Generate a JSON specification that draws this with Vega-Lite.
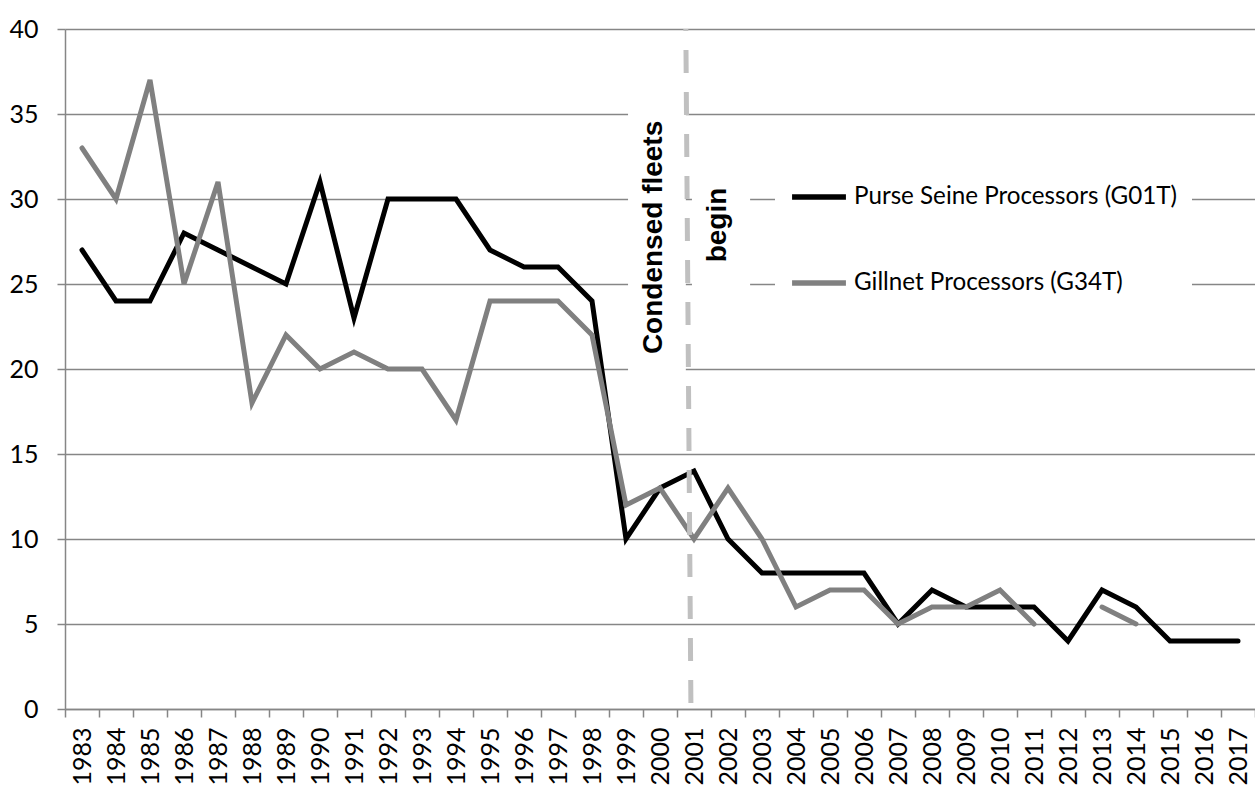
{
  "$schema": "https://vega.github.io/schema/vega-lite/v6.json",
  "width": 1190,
  "height": 680,
  "autosize": {"type": "none"},
  "padding": {"left": 65, "top": 29, "right": 0, "bottom": 82},
  "background": "white",
  "config": {"view": {"stroke": null}, "font": "Lato"},
  "datasets": {
    "series": [
      {"year": 1983, "series": "Purse Seine Processors (G01T)", "value": 27},
      {"year": 1984, "series": "Purse Seine Processors (G01T)", "value": 24},
      {"year": 1985, "series": "Purse Seine Processors (G01T)", "value": 24},
      {"year": 1986, "series": "Purse Seine Processors (G01T)", "value": 28},
      {"year": 1987, "series": "Purse Seine Processors (G01T)", "value": 27},
      {"year": 1988, "series": "Purse Seine Processors (G01T)", "value": 26},
      {"year": 1989, "series": "Purse Seine Processors (G01T)", "value": 25},
      {"year": 1990, "series": "Purse Seine Processors (G01T)", "value": 31},
      {"year": 1991, "series": "Purse Seine Processors (G01T)", "value": 23},
      {"year": 1992, "series": "Purse Seine Processors (G01T)", "value": 30},
      {"year": 1993, "series": "Purse Seine Processors (G01T)", "value": 30},
      {"year": 1994, "series": "Purse Seine Processors (G01T)", "value": 30},
      {"year": 1995, "series": "Purse Seine Processors (G01T)", "value": 27},
      {"year": 1996, "series": "Purse Seine Processors (G01T)", "value": 26},
      {"year": 1997, "series": "Purse Seine Processors (G01T)", "value": 26},
      {"year": 1998, "series": "Purse Seine Processors (G01T)", "value": 24},
      {"year": 1999, "series": "Purse Seine Processors (G01T)", "value": 10},
      {"year": 2000, "series": "Purse Seine Processors (G01T)", "value": 13},
      {"year": 2001, "series": "Purse Seine Processors (G01T)", "value": 14},
      {"year": 2002, "series": "Purse Seine Processors (G01T)", "value": 10},
      {"year": 2003, "series": "Purse Seine Processors (G01T)", "value": 8},
      {"year": 2004, "series": "Purse Seine Processors (G01T)", "value": 8},
      {"year": 2005, "series": "Purse Seine Processors (G01T)", "value": 8},
      {"year": 2006, "series": "Purse Seine Processors (G01T)", "value": 8},
      {"year": 2007, "series": "Purse Seine Processors (G01T)", "value": 5},
      {"year": 2008, "series": "Purse Seine Processors (G01T)", "value": 7},
      {"year": 2009, "series": "Purse Seine Processors (G01T)", "value": 6},
      {"year": 2010, "series": "Purse Seine Processors (G01T)", "value": 6},
      {"year": 2011, "series": "Purse Seine Processors (G01T)", "value": 6},
      {"year": 2012, "series": "Purse Seine Processors (G01T)", "value": 4},
      {"year": 2013, "series": "Purse Seine Processors (G01T)", "value": 7},
      {"year": 2014, "series": "Purse Seine Processors (G01T)", "value": 6},
      {"year": 2015, "series": "Purse Seine Processors (G01T)", "value": 4},
      {"year": 2016, "series": "Purse Seine Processors (G01T)", "value": 4},
      {"year": 2017, "series": "Purse Seine Processors (G01T)", "value": 4},
      {"year": 1983, "series": "Gillnet Processors (G34T)", "value": 33},
      {"year": 1984, "series": "Gillnet Processors (G34T)", "value": 30},
      {"year": 1985, "series": "Gillnet Processors (G34T)", "value": 37},
      {"year": 1986, "series": "Gillnet Processors (G34T)", "value": 25},
      {"year": 1987, "series": "Gillnet Processors (G34T)", "value": 31},
      {"year": 1988, "series": "Gillnet Processors (G34T)", "value": 18},
      {"year": 1989, "series": "Gillnet Processors (G34T)", "value": 22},
      {"year": 1990, "series": "Gillnet Processors (G34T)", "value": 20},
      {"year": 1991, "series": "Gillnet Processors (G34T)", "value": 21},
      {"year": 1992, "series": "Gillnet Processors (G34T)", "value": 20},
      {"year": 1993, "series": "Gillnet Processors (G34T)", "value": 20},
      {"year": 1994, "series": "Gillnet Processors (G34T)", "value": 17},
      {"year": 1995, "series": "Gillnet Processors (G34T)", "value": 24},
      {"year": 1996, "series": "Gillnet Processors (G34T)", "value": 24},
      {"year": 1997, "series": "Gillnet Processors (G34T)", "value": 24},
      {"year": 1998, "series": "Gillnet Processors (G34T)", "value": 22},
      {"year": 1999, "series": "Gillnet Processors (G34T)", "value": 12},
      {"year": 2000, "series": "Gillnet Processors (G34T)", "value": 13},
      {"year": 2001, "series": "Gillnet Processors (G34T)", "value": 10},
      {"year": 2002, "series": "Gillnet Processors (G34T)", "value": 13},
      {"year": 2003, "series": "Gillnet Processors (G34T)", "value": 10},
      {"year": 2004, "series": "Gillnet Processors (G34T)", "value": 6},
      {"year": 2005, "series": "Gillnet Processors (G34T)", "value": 7},
      {"year": 2006, "series": "Gillnet Processors (G34T)", "value": 7},
      {"year": 2007, "series": "Gillnet Processors (G34T)", "value": 5},
      {"year": 2008, "series": "Gillnet Processors (G34T)", "value": 6},
      {"year": 2009, "series": "Gillnet Processors (G34T)", "value": 6},
      {"year": 2010, "series": "Gillnet Processors (G34T)", "value": 7},
      {"year": 2011, "series": "Gillnet Processors (G34T)", "value": 5},
      {"year": 2012, "series": "Gillnet Processors (G34T)", "value": null},
      {"year": 2013, "series": "Gillnet Processors (G34T)", "value": 6},
      {"year": 2014, "series": "Gillnet Processors (G34T)", "value": 5}
    ],
    "box1": [{"from": 1999, "to": 2001, "top": 38.2, "bottom": 17.3}],
    "box2": [{"from": 2001, "to": 2003, "top": 32.9, "bottom": 24.1}],
    "marker": [{"year": 2001, "top": 40, "bottom": 0}],
    "note1": [{"year": 2000, "value": 27.74, "label": "Condensed fleets"}],
    "note2": [{"year": 2002, "value": 28.47, "label": "begin"}]
  },
  "layer": [
    {
      "data": {"name": "series"},
      "mark": {"type": "line", "strokeWidth": 5, "strokeCap": "round", "invalid": "break-paths-filter-domains"},
      "encoding": {
        "x": {
          "field": "year", "type": "ordinal", "bandPosition": 0.5, "title": null,
          "scale": {"type": "band", "paddingInner": 0, "paddingOuter": 0},
          "axis": {
            "title": null, "tickBand": "extent", "grid": false,
            "labelAngle": 270, "labelAlign": "right", "labelBaseline": "middle",
            "labelPadding": 10, "labelFontSize": 25, "labelFont": "Lato", "labelColor": "black",
            "tickSize": 8, "tickWidth": 1.5, "tickColor": "#868686",
            "domainColor": "#868686", "domainWidth": 1.5
          }
        },
        "y": {
          "field": "value", "type": "quantitative", "title": null,
          "scale": {"domain": [0, 40], "nice": false},
          "axis": {
            "title": null, "values": [0, 5, 10, 15, 20, 25, 30, 35, 40],
            "grid": true, "gridColor": "#868686", "gridWidth": 1.5,
            "domainColor": "#868686", "domainWidth": 1.5,
            "tickColor": "#868686", "tickSize": 8, "tickWidth": 1.5,
            "labelFontSize": 25, "labelFont": "Lato", "labelColor": "black", "labelPadding": 19
          }
        },
        "color": {
          "field": "series", "type": "nominal",
          "scale": {"domain": ["Purse Seine Processors (G01T)", "Gillnet Processors (G34T)"], "range": ["#000000", "#808080"]},
          "legend": {
            "title": null, "orient": "none", "legendX": 710, "legendY": 124,
            "symbolType": "stroke", "symbolSize": 2900, "symbolStrokeWidth": 5.5,
            "labelFontSize": 24.2, "labelFont": "Lato", "labelColor": "black", "labelLimit": 600,
            "labelOffset": 5, "padding": 14, "rowPadding": 43, "fillColor": "white"
          }
        }
      }
    },
    {
      "data": {"name": "box1"},
      "mark": {"type": "rect", "fill": "white"},
      "encoding": {
        "x": {"field": "from", "type": "ordinal", "bandPosition": 0.56, "title": null},
        "x2": {"field": "to", "bandPosition": 0.26},
        "y": {"field": "top", "type": "quantitative", "title": null},
        "y2": {"field": "bottom"}
      }
    },
    {
      "data": {"name": "box2"},
      "mark": {"type": "rect", "fill": "white"},
      "encoding": {
        "x": {"field": "from", "type": "ordinal", "bandPosition": 0.44, "title": null},
        "x2": {"field": "to", "bandPosition": 0.15},
        "y": {"field": "top", "type": "quantitative", "title": null},
        "y2": {"field": "bottom"}
      }
    },
    {
      "data": {"name": "marker"},
      "mark": {"type": "rule", "color": "#c0c0c0", "strokeWidth": 5, "strokeDash": [23, 19], "strokeDashOffset": 21},
      "encoding": {
        "x": {"field": "year", "type": "ordinal", "bandPosition": 0.26, "title": null},
        "x2": {"field": "year", "bandPosition": 0.41},
        "y": {"field": "top", "type": "quantitative", "title": null},
        "y2": {"field": "bottom"}
      }
    },
    {
      "data": {"name": "note1"},
      "mark": {"type": "text", "angle": 270, "font": "Liberation Sans", "fontWeight": "bold", "fontSize": 28, "align": "center", "baseline": "middle", "color": "black"},
      "encoding": {
        "x": {"field": "year", "type": "ordinal", "bandPosition": 0.32, "title": null},
        "y": {"field": "value", "type": "quantitative", "title": null},
        "text": {"field": "label"}
      }
    },
    {
      "data": {"name": "note2"},
      "mark": {"type": "text", "angle": 270, "font": "Liberation Sans", "fontWeight": "bold", "fontSize": 28, "align": "center", "baseline": "middle", "color": "black"},
      "encoding": {
        "x": {"field": "year", "type": "ordinal", "bandPosition": 0.2, "title": null},
        "y": {"field": "value", "type": "quantitative", "title": null},
        "text": {"field": "label"}
      }
    }
  ]
}
